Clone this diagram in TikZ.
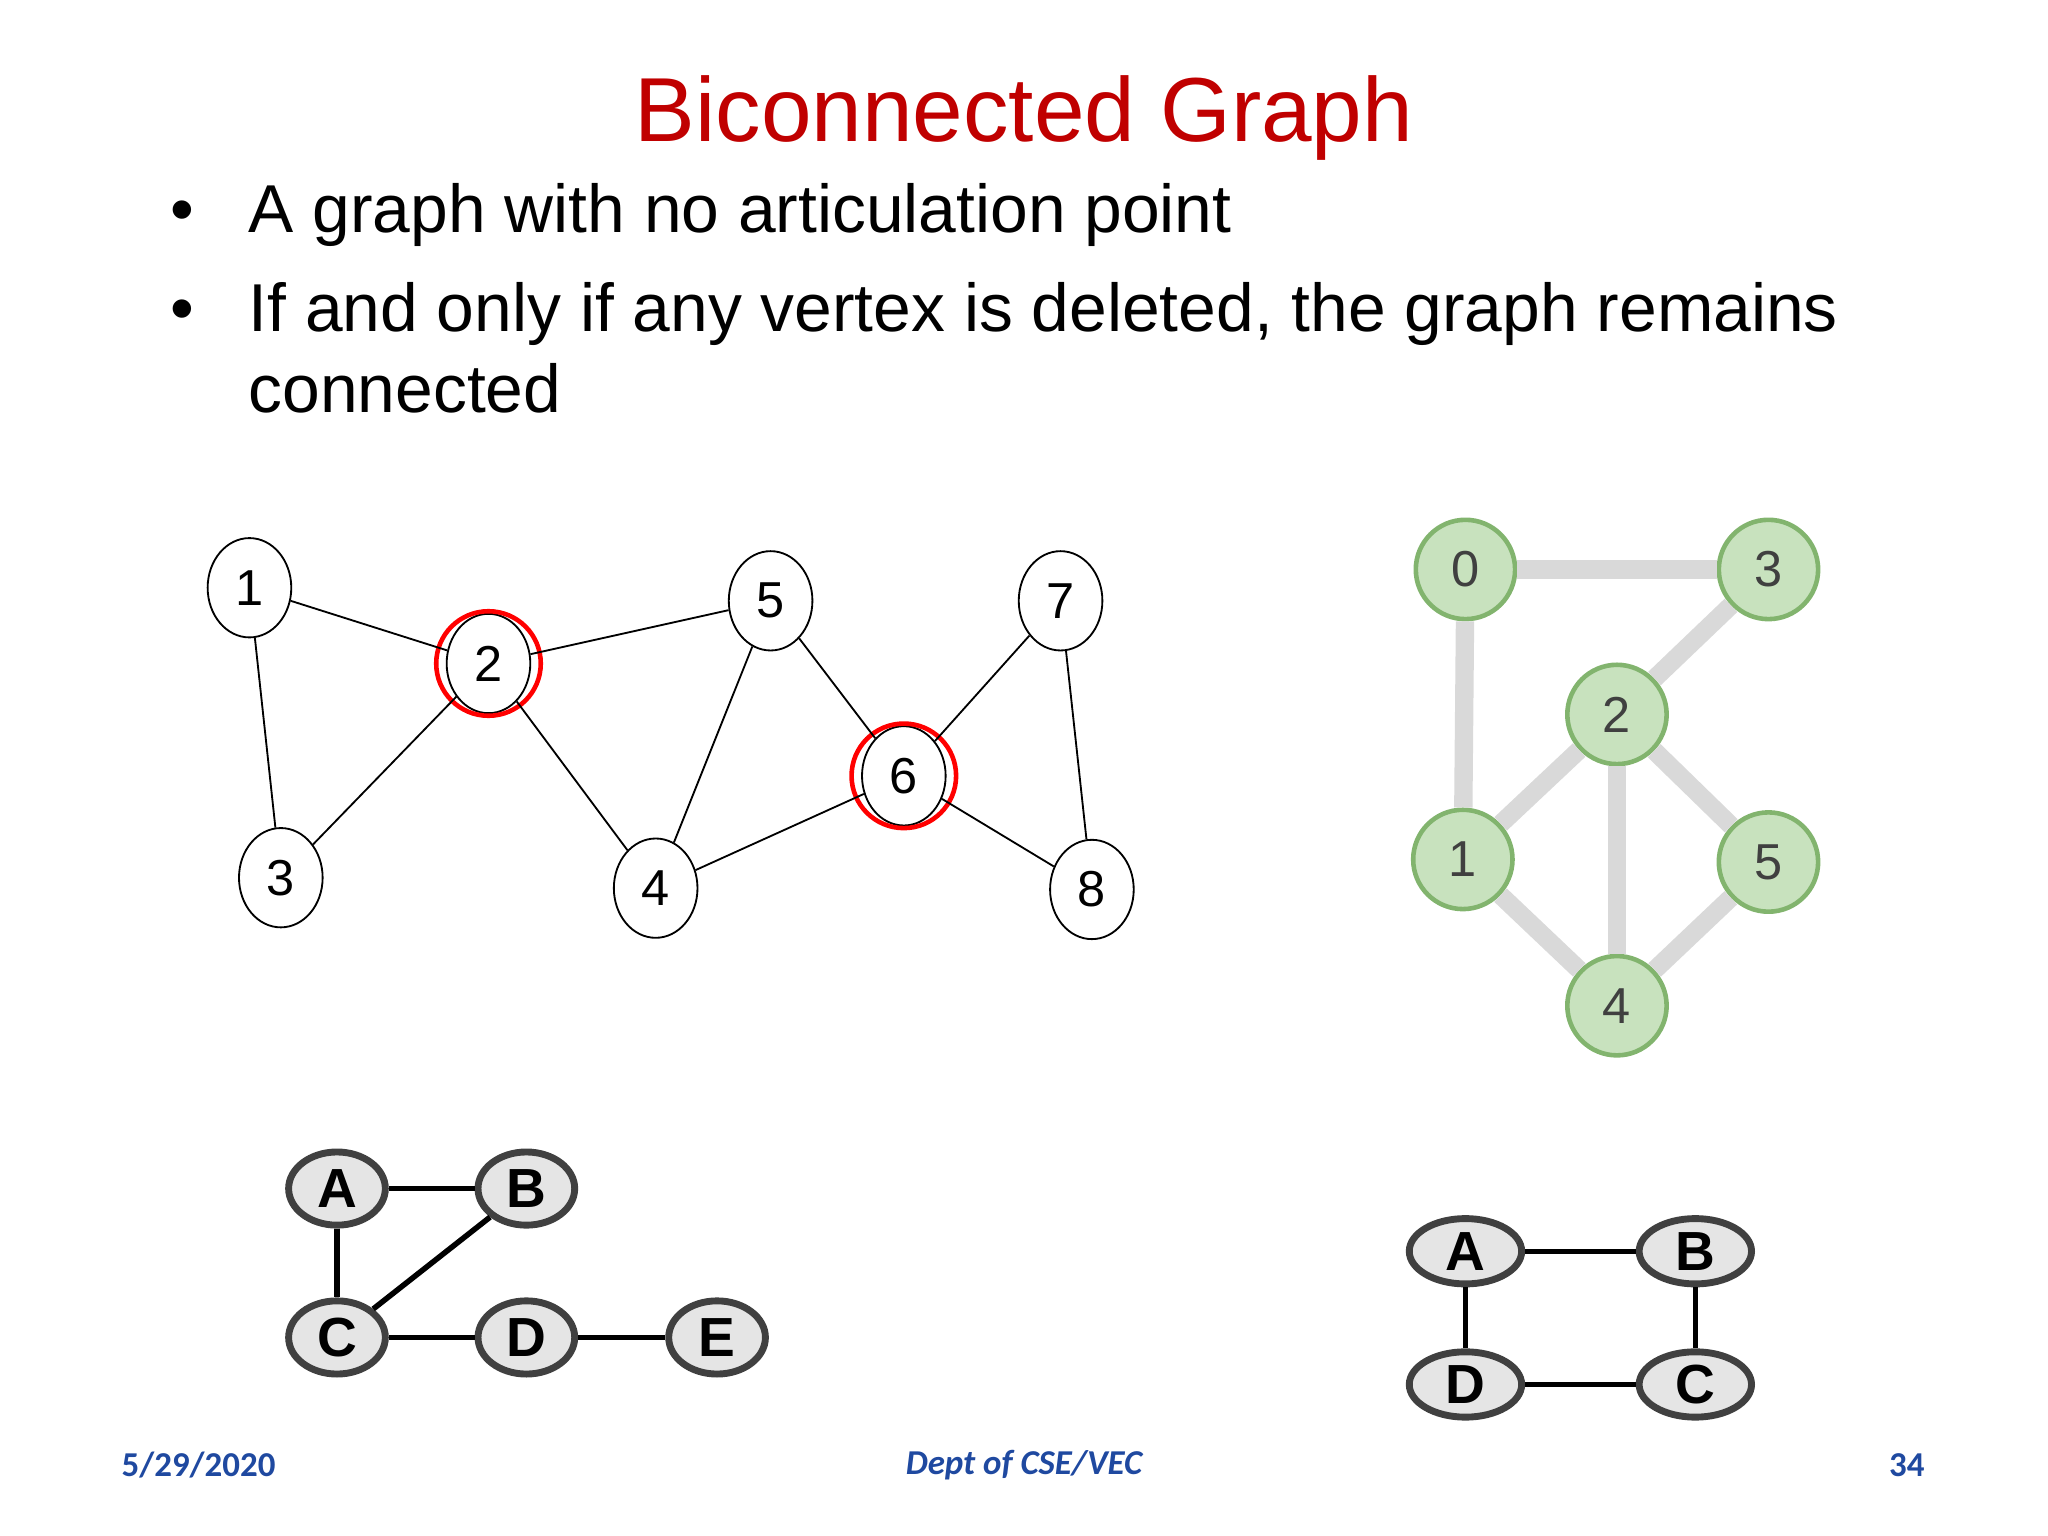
\documentclass[tikz,border=0pt]{standalone}
\usepackage{fontspec}
\setmainfont{Liberation Sans}
\newfontfamily\footfont{Carlito}
\usetikzlibrary{shapes.geometric}
\definecolor{titlered}{RGB}{192,0,0}
\definecolor{footblue}{RGB}{31,73,160}
\definecolor{gfill}{RGB}{200,226,190}
\definecolor{gline}{RGB}{130,180,110}
\begin{document}
\begin{tikzpicture}[x=0.01cm,y=-0.01cm,
  wv/.style={draw,ellipse,minimum width=0.64cm,minimum height=0.76cm,inner sep=0pt,font=\fontsize{11}{13}\selectfont},
  gv/.style={draw=gline,fill=gfill,circle,line width=1pt,minimum size=0.76cm,inner sep=0pt,font=\fontsize{11}{13}\selectfont,text=black!75},
  lv/.style={draw=black!75,fill=black!10,ellipse,line width=1.5pt,minimum width=0.74cm,minimum height=0.56cm,inner sep=0pt,font=\fontsize{12}{14}\selectfont\bfseries},
  rv/.style={lv,minimum width=0.86cm,minimum height=0.5cm},
  ge/.style={draw=black!15,line width=4pt},
  bt/.style={anchor=base west,font=\fontsize{14.75}{18}\selectfont},
  ring/.style={draw=red,circle,line width=1pt,minimum size=0.8cm}]
\useasboundingbox (0,0) rectangle (1568,1176);
\node[titlered,font=\fontsize{19.8}{24}\selectfont] (title) at (784,90) {Biconnected Graph};
\node[bt] (d1) at (118,178) {•};
\node[bt] (b1) at (178,178) {A graph with no articulation point};
\node[bt] (d2) at (118,254) {•};
\node[bt] (b2) at (178,254) {If and only if any vertex is deleted, the graph remains};
\node[bt] (b3) at (178,316) {connected};
% left graph
\node[wv] (n1) at (191,450) {1};
\node[wv] (n2) at (374,508) {2};
\node[wv] (n3) at (215,672) {3};
\node[wv] (n4) at (502,680) {4};
\node[wv] (n5) at (590,460) {5};
\node[wv] (n6) at (692,594) {6};
\node[wv] (n7) at (812,460) {7};
\node[wv] (n8) at (836,681) {8};
\node[ring] (r2) at (374,508) {};
\node[ring] (r6) at (692,594) {};
\foreach \a/\b in {n1/n2,n1/n3,n2/n3,n2/n5,n2/n4,n5/n4,n5/n6,n4/n6,n6/n7,n6/n8,n7/n8} \draw (\a)--(\b);
% green graph
\node[gv] (g0) at (1122,436) {0};
\node[gv] (g3) at (1354,436) {3};
\node[gv] (g2) at (1238,547) {2};
\node[gv] (g1) at (1120,658) {1};
\node[gv] (g5) at (1354,660) {5};
\node[gv] (g4) at (1238,770) {4};
\foreach \a/\b in {g0/g3,g0/g1,g3/g2,g2/g1,g2/g4,g2/g5,g1/g4,g5/g4} \draw[ge] (\a)--(\b);
% bottom left
\node[lv] (la) at (258,910) {A};
\node[lv] (lb) at (403,910) {B};
\node[lv] (lc) at (258,1024) {C};
\node[lv] (ld) at (403,1024) {D};
\node[lv] (le) at (549,1024) {E};
\foreach \a/\b in {la/lb,la/lc,lb/lc,lc/ld,ld/le} \draw[line width=1.2pt] (\a)--(\b);
% bottom right
\node[rv] (ra) at (1122,958) {A};
\node[rv] (rb) at (1298,958) {B};
\node[rv] (rd) at (1122,1060) {D};
\node[rv] (rc) at (1298,1060) {C};
\foreach \a/\b in {ra/rb,ra/rd,rb/rc,rd/rc} \draw[line width=1.2pt] (\a)--(\b);
% footer
\node[footblue,font=\footfont\fontsize{7.6}{9}\selectfont\bfseries] (f1) at (152,1122) {5/29/2020};
\node[footblue,font=\footfont\fontsize{7.6}{9}\selectfont\bfseries\itshape] (f2) at (784,1122) {Dept of CSE/VEC};
\node[footblue,font=\footfont\fontsize{7.6}{9}\selectfont\bfseries] (f3) at (1460,1122) {34};
\end{tikzpicture}
\end{document}
